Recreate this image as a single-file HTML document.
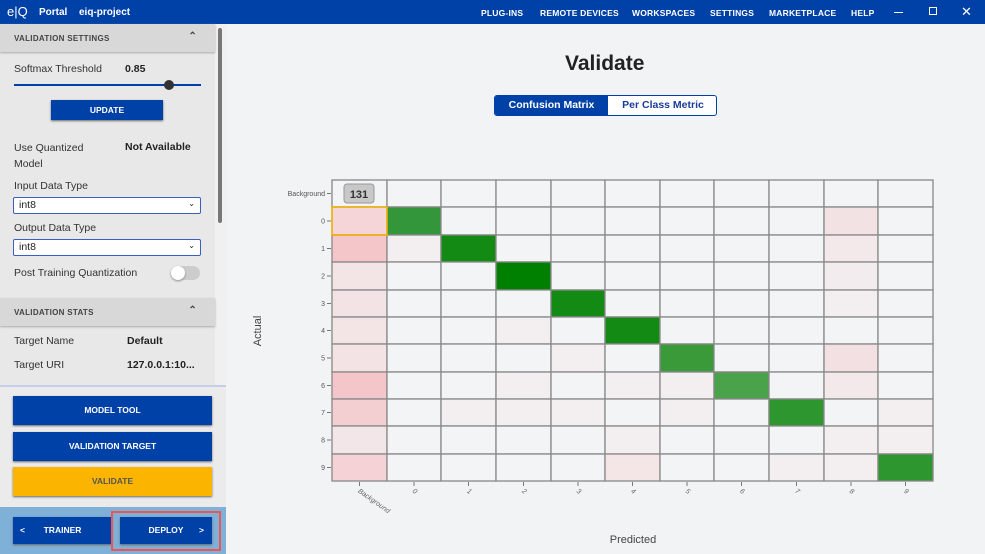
<!DOCTYPE html>
<html><head><meta charset="utf-8"><style>
*{margin:0;padding:0;box-sizing:border-box}
body{width:985px;height:554px;overflow:hidden;background:#f2f3f5;font-family:"Liberation Sans",sans-serif;position:relative}
.a{position:absolute}
.hdr{left:0;top:0;width:985px;height:24px;background:#0041a8;color:#fff;font-weight:bold}
.nav{font-size:8.5px;top:8px;letter-spacing:.2px}
.side{left:0;top:24px;width:215px;height:530px;background:#e8e8e8}
.sec{left:0;width:215px;height:28px;background:#d8d8d8;font-size:8px;font-weight:bold;color:#444;padding:10px 14px;letter-spacing:.3px;box-shadow:0 1px 2px #aaa}
.lbl{font-size:10.5px;color:#333}
.val{font-size:10.5px;color:#222;font-weight:bold}
.sel{left:13px;width:188px;height:17px;background:#fff;border:1px solid #3a5fc0;border-radius:2px;font-size:10.5px;padding:1px 5px;color:#222}
.btn{background:#0041a8;color:#fff;font-size:8.5px;font-weight:bold;text-align:center;box-shadow:0 1px 2px #666}
</style></head><body>
<div class="a hdr">
 <div class="a" style="left:7px;top:4px;font-size:13px;font-weight:normal">e|Q</div>
 <div class="a" style="left:39px;top:7px;font-size:10px">Portal</div>
 <div class="a" style="left:79px;top:7px;font-size:10px">eiq-project</div>
 <div class="a nav" style="left:481px">PLUG-INS</div>
 <div class="a nav" style="left:540px">REMOTE DEVICES</div>
 <div class="a nav" style="left:632px">WORKSPACES</div>
 <div class="a nav" style="left:710px">SETTINGS</div>
 <div class="a nav" style="left:769px">MARKETPLACE</div>
 <div class="a nav" style="left:851px">HELP</div>
 <div class="a" style="left:894px;top:12px;width:9px;height:1px;background:#fff"></div>
 <div class="a" style="left:929px;top:7px;width:8px;height:8px;border:1px solid #fff"></div>
 <div class="a" style="left:961px;top:4px;font-size:13px;font-weight:normal">✕</div>
</div>
<div class="a side"></div>
<div class="a" style="left:215px;top:24px;width:11px;height:362px;background:#f0f0f0"></div>
<div class="a" style="left:218px;top:28px;width:4px;height:195px;background:#777;border-radius:2px"></div>
<div class="a sec" style="top:24px">VALIDATION SETTINGS<span style="position:absolute;right:18px;top:7px;font-size:10px">⌃</span></div>
<div class="a lbl" style="left:14px;top:63px">Softmax Threshold</div>
<div class="a val" style="left:125px;top:63px">0.85</div>
<div class="a" style="left:14px;top:84px;width:187px;height:2px;background:#0041a8"></div>
<div class="a" style="left:164px;top:80px;width:10px;height:10px;border-radius:50%;background:#333"></div>
<div class="a btn" style="left:51px;top:100px;width:112px;height:20px;line-height:20px">UPDATE</div>
<div class="a lbl" style="left:14px;top:140px;line-height:16px">Use Quantized<br>Model</div>
<div class="a val" style="left:125px;top:141px">Not Available</div>
<div class="a lbl" style="left:14px;top:180px">Input Data Type</div>
<div class="a sel" style="top:197px">int8<span style="float:right;font-size:8px">⌄</span></div>
<div class="a lbl" style="left:14px;top:222px">Output Data Type</div>
<div class="a sel" style="top:239px">int8<span style="float:right;font-size:8px">⌄</span></div>
<div class="a lbl" style="left:14px;top:267px">Post Training Quantization</div>
<div class="a" style="left:171px;top:266px;width:29px;height:14px;border-radius:7px;background:#ccc"></div>
<div class="a" style="left:171px;top:266px;width:14px;height:14px;border-radius:50%;background:#fff;box-shadow:0 1px 2px #888"></div>
<div class="a sec" style="top:298px">VALIDATION STATS<span style="position:absolute;right:18px;top:7px;font-size:10px">⌃</span></div>
<div class="a lbl" style="left:14px;top:335px">Target Name</div>
<div class="a val" style="left:127px;top:335px">Default</div>
<div class="a lbl" style="left:14px;top:359px">Target URI</div>
<div class="a val" style="left:127px;top:359px">127.0.0.1:10...</div>
<div class="a" style="left:0;top:385px;width:226px;height:2px;background:#c7cde8"></div>
<div class="a" style="left:0;top:387px;width:226px;height:120px;background:#ebebeb"></div>
<div class="a btn" style="left:13px;top:396px;width:199px;height:29px;line-height:29px">MODEL TOOL</div>
<div class="a btn" style="left:13px;top:432px;width:199px;height:29px;line-height:29px">VALIDATION TARGET</div>
<div class="a btn" style="left:13px;top:467px;width:199px;height:29px;line-height:29px;background:#fbb500;color:#555">VALIDATE</div>
<div class="a" style="left:0;top:507px;width:226px;height:47px;background:#7fb0d8"></div>
<div class="a btn" style="left:13px;top:517px;width:99px;height:27px;line-height:27px">TRAINER<span style="position:absolute;left:7px">&lt;</span></div>
<div class="a" style="left:111px;top:511px;width:110px;height:40px;border:2px solid #ee5555"></div>
<div class="a btn" style="left:120px;top:517px;width:92px;height:27px;line-height:27px">DEPLOY<span style="position:absolute;right:8px">&gt;</span></div>
<div class="a" style="left:565px;top:52px;font-size:21px;font-weight:bold;color:#222">Validate</div>
<div class="a" style="left:494px;top:95px;width:223px;height:21px;border:1px solid #0041a8;border-radius:3px;background:#fff;overflow:hidden">
 <div class="a" style="left:0;top:0;width:113px;height:21px;background:#0041a8;color:#fff;font-size:10.5px;font-weight:bold;text-align:center;line-height:19px">Confusion Matrix</div>
 <div class="a" style="left:113px;top:0;width:110px;font-size:10.5px;font-weight:bold;color:#1a3c9a;text-align:center;line-height:19px">Per Class Metric</div>
</div>
<svg class="a" style="left:0;top:0" width="985" height="554" id="s"></svg>
<script>
var xs=[332,387,441,496,551,605,660,714,769,824,878,933],ys=[180,207,235,262,290,317,344,372,399,426,454,481];
var C={};
var g=['#33963a','#138a13','#008000','#138a13','#138a13','#3a9a3a','#4aa34a','#2e962e','#138a13','#2e962e'];
var p0=['#f5d5d8','#f4c6c9','#f3e4e6','#f3e3e4','#f3e4e6','#f3e3e4','#f4c6c9','#f4cfd2','#f3e6e8','#f4d2d6'];
var p9=['#f3e2e4','#f3e8ea','#f3ecee','#f3eeef',null,'#f3e0e2','#f3e9ea',null,'#f3eeef','#f3eeef'];
for(var i=0;i<10;i++){C[(i+1)+','+(i+1)]=g[i];C[(i+1)+',0']=p0[i];if(p9[i])C[(i+1)+',9']=p9[i];}
['2,1','5,3','6,4','7,3','7,5','7,6','8,2','8,3','8,4','8,6','8,10','9,5','9,10','10,8'].forEach(function(k){C[k]=C[k]||'#f3eeef'});
C['10,5']='#f4e6e7';
var h='';
for(var r=0;r<11;r++)for(var c=0;c<11;c++){var col=C[r+','+c]||'#f3f4f6';
h+='<rect x="'+xs[c]+'" y="'+ys[r]+'" width="'+(xs[c+1]-xs[c])+'" height="'+(ys[r+1]-ys[r])+'" fill="'+col+'" stroke="#888" stroke-width="1.3"/>';}
h+='<rect x="332" y="207" width="55" height="28" fill="none" stroke="#f5b400" stroke-width="1.5"/>';
h+='<rect x="344" y="184" width="30" height="19" rx="3" fill="#c8c8c8" stroke="#999"/><text x="359" y="198" font-size="11" font-weight="bold" text-anchor="middle" fill="#333" font-family="Liberation Sans">131</text>';
var L=['Background','0','1','2','3','4','5','6','7','8','9'];
for(r=0;r<11;r++){var y=(ys[r]+ys[r+1])/2;h+='<text x="325" y="'+(y+2.5)+'" font-size="7" text-anchor="end" fill="#555" font-family="Liberation Sans">'+L[r]+'</text><line x1="327" x2="331" y1="'+y+'" y2="'+y+'" stroke="#777"/>';}
for(c=0;c<11;c++){var x=(xs[c]+xs[c+1])/2;h+='<line x1="'+x+'" x2="'+x+'" y1="482" y2="486" stroke="#777"/><text transform="translate('+(x-2)+',492) rotate(35)" font-size="7" fill="#666" font-style="italic" font-family="Liberation Sans">'+L[c]+'</text>';}
h+='<text x="633" y="543" font-size="11" text-anchor="middle" fill="#444" font-family="Liberation Sans">Predicted</text>';
h+='<text transform="translate(261,331) rotate(-90)" font-size="11" text-anchor="middle" fill="#444" font-family="Liberation Sans">Actual</text>';
document.getElementById('s').innerHTML=h;
</script>
</body></html>
